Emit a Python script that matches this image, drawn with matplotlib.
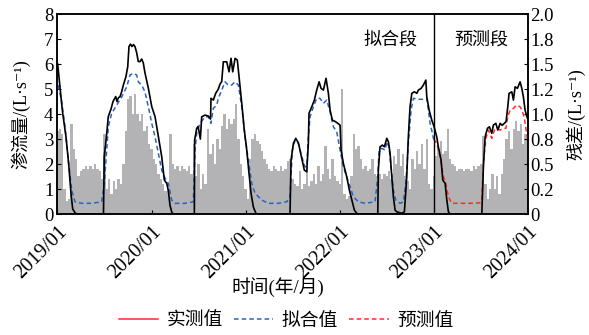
import numpy as np
import matplotlib
matplotlib.use("Agg")
import matplotlib.pyplot as plt
from matplotlib.lines import Line2D
from matplotlib.ticker import FixedLocator, FuncFormatter

plt.rcParams["font.family"] = ["Liberation Serif", "Noto Sans CJK SC", "DejaVu Sans"]

# observed seepage flow (L/s), time in decimal years
obs_t = [2019.002, 2019.021, 2019.053, 2019.090, 2019.119, 2019.144, 2019.162, 2019.191, 2019.218,
         2019.489, 2019.497, 2019.523, 2019.540, 2019.569, 2019.590, 2019.604, 2019.619, 2019.633,
         2019.647, 2019.665, 2019.683, 2019.700, 2019.728, 2019.747, 2019.760, 2019.776, 2019.792,
         2019.808, 2019.824, 2019.842, 2019.859, 2019.877, 2019.895, 2019.912, 2019.930, 2019.966,
         2020.002, 2020.037, 2020.072, 2020.108, 2020.136, 2020.161, 2020.178, 2020.196, 2020.214,
         2020.228,
         2020.455, 2020.458, 2020.480, 2020.494, 2020.505, 2020.519, 2020.533, 2020.569, 2020.604,
         2020.627, 2020.632, 2020.657, 2020.682, 2020.710, 2020.728, 2020.746, 2020.763, 2020.799,
         2020.824, 2020.845, 2020.863, 2020.888, 2020.912, 2020.930, 2020.959, 2020.986, 2021.012,
         2021.036, 2021.058, 2021.082, 2021.108, 2021.122,
         2021.472, 2021.483, 2021.508, 2021.533, 2021.561, 2021.597, 2021.624, 2021.650, 2021.667,
         2021.674, 2021.703, 2021.731, 2021.756, 2021.781, 2021.802, 2021.827, 2021.855, 2021.880,
         2021.898, 2021.922, 2021.958, 2022.004, 2022.015, 2022.039, 2022.075, 2022.103, 2022.129,
         2022.156, 2022.182, 2022.196,
         2022.405, 2022.411, 2022.429, 2022.454, 2022.475, 2022.501, 2022.518, 2022.536, 2022.554,
         2022.571, 2022.589, 2022.607, 2022.660, 2022.688, 2022.713, 2022.730, 2022.748, 2022.767,
         2022.794, 2022.820, 2022.837, 2022.866, 2022.890, 2022.916, 2022.926, 2022.951, 2022.979,
         2023.004, 2023.032, 2023.049, 2023.078, 2023.096, 2023.121, 2023.139, 2023.156, 2023.174,
         2023.511, 2023.528, 2023.546, 2023.571, 2023.592, 2023.617, 2023.634, 2023.660, 2023.681,
         2023.706, 2023.727, 2023.751, 2023.769, 2023.787, 2023.801, 2023.830, 2023.847, 2023.865,
         2023.890, 2023.918, 2023.936, 2023.953, 2023.971, 2023.990, 2024.000]
obs_v = [6.00, 5.30, 4.10, 3.10, 2.00, 0.80, 0.20, 0.03, 0.00,
         0.00, 2.30, 3.20, 3.90, 4.20, 4.50, 4.60, 4.70, 4.50,
         4.65, 4.70, 4.90, 5.16, 5.50, 5.90, 6.70, 6.80, 6.70,
         6.78, 6.70, 6.45, 6.10, 6.10, 6.20, 6.05, 5.65, 5.03,
         4.30, 3.90, 3.10, 2.30, 1.36, 1.23, 0.96, 0.35, 0.09,
         0.00,
         0.00, 2.96, 3.43, 3.50, 3.30, 3.00, 3.89, 3.96, 3.92,
         3.80, 4.63, 4.56, 4.83, 5.00, 5.20, 5.30, 6.09, 6.09,
         5.69, 6.23, 5.69, 6.23, 6.16, 5.49, 4.43, 3.36, 2.56,
         1.63, 0.83, 0.29, 0.04, 0.00,
         0.00, 2.16, 2.83, 3.03, 2.85, 2.23, 1.76, 1.69, 2.83,
         4.03, 4.29, 4.56, 4.96, 5.29, 5.03, 4.96, 5.43, 4.83,
         4.16, 3.76, 3.69, 3.56, 2.56, 2.03, 1.49, 0.96, 0.56,
         0.16, 0.03, 0.00,
         0.00, 1.76, 2.69, 2.76, 2.69, 3.03, 2.89, 2.43, 1.49,
         0.69, 0.16, 0.09, 0.03, 0.09, 1.49, 3.09, 4.29, 4.83,
         4.89, 4.83, 4.96, 5.03, 5.16, 5.36, 4.69, 4.16, 3.76,
         3.49, 3.09, 2.69, 2.16, 1.36, 1.23, 0.56, 0.09, 0.00,
         0.00, 1.89, 3.09, 3.43, 3.49, 3.23, 3.56, 3.63, 3.36,
         3.63, 3.55, 3.63, 3.70, 4.29, 4.83, 4.89, 4.56, 5.09,
         5.03, 5.29, 5.03, 4.69, 4.16, 3.89, 3.80]

# fitted flow over the calibration period (L/s)
fit_t = [2019.009, 2019.045, 2019.080, 2019.115, 2019.151, 2019.186, 2019.257, 2019.364, 2019.470,
         2019.498, 2019.523, 2019.540, 2019.576, 2019.630, 2019.683, 2019.736, 2019.771, 2019.806,
         2019.842, 2019.859, 2019.895, 2019.930, 2019.966, 2020.002, 2020.037, 2020.072, 2020.108,
         2020.136, 2020.178, 2020.214, 2020.250, 2020.356, 2020.444, 2020.462, 2020.480, 2020.515,
         2020.569, 2020.604, 2020.632, 2020.657, 2020.693, 2020.710, 2020.746, 2020.781, 2020.816,
         2020.852, 2020.888, 2020.923, 2020.959, 2020.994, 2021.029, 2021.065, 2021.100, 2021.171,
         2021.242, 2021.348, 2021.437, 2021.472, 2021.497, 2021.526, 2021.561, 2021.597, 2021.632,
         2021.650, 2021.667, 2021.685, 2021.720, 2021.756, 2021.791, 2021.827, 2021.863, 2021.898,
         2021.933, 2021.969, 2022.004, 2022.039, 2022.075, 2022.111, 2022.146, 2022.199, 2022.270,
         2022.376, 2022.405, 2022.419, 2022.447, 2022.483, 2022.501, 2022.525, 2022.546, 2022.571,
         2022.596, 2022.642, 2022.677, 2022.703, 2022.730, 2022.759, 2022.784, 2022.837, 2022.890,
         2022.926, 2022.943, 2022.961, 2022.986, 2022.998]
fit_v = [5.16, 4.49, 3.49, 2.16, 0.96, 0.49, 0.43, 0.43, 0.49,
         1.23, 2.56, 3.49, 4.03, 4.36, 4.69, 5.09, 5.56, 5.63,
         5.56, 5.29, 5.16, 4.89, 4.29, 3.63, 3.09, 2.43, 1.76,
         1.49, 1.23, 0.56, 0.43, 0.43, 0.49, 2.56, 3.23, 3.63,
         3.89, 3.89, 3.63, 4.23, 4.36, 4.63, 4.96, 5.29, 5.16,
         5.16, 5.29, 5.16, 4.29, 3.09, 2.16, 1.23, 0.83, 0.56,
         0.43, 0.43, 0.49, 0.69, 2.56, 2.96, 2.83, 2.29, 1.89,
         1.89, 3.09, 3.89, 4.29, 4.63, 4.63, 4.43, 4.56, 4.09,
         3.49, 3.29, 2.56, 1.89, 1.49, 1.09, 0.69, 0.49, 0.43,
         0.49, 1.49, 2.56, 2.63, 2.56, 2.89, 2.69, 1.89, 0.96,
         0.56, 0.43, 0.49, 1.23, 2.83, 4.16, 4.63, 4.59, 4.59,
         4.63, 4.16, 3.63, 3.23, 3.00]

# predicted flow over the validation period (L/s)
pred_t = [2022.998, 2023.007, 2023.032, 2023.068, 2023.103, 2023.128, 2023.156, 2023.192, 2023.245,
          2023.387, 2023.493, 2023.511, 2023.528, 2023.554, 2023.581, 2023.617, 2023.645, 2023.670,
          2023.706, 2023.741, 2023.767, 2023.787, 2023.812, 2023.847, 2023.883, 2023.918, 2023.936,
          2023.961, 2023.982, 2024.000]
pred_v = [3.00, 2.96, 2.83, 2.29, 1.49, 1.23, 0.69, 0.43, 0.43,
          0.43, 0.45, 0.56, 2.03, 3.03, 3.36, 3.03, 3.36, 3.43,
          3.36, 3.43, 3.43, 3.89, 4.16, 4.23, 4.36, 4.29, 4.16,
          3.89, 3.36, 3.00]

# absolute residual (L/s), sampled every 0.025 year from 2019/01
resid = [0.83, 0.85, 0.80, 0.25, 0.13, 0.15, 0.90, 0.65, 0.55, 0.38,
         0.43, 0.45, 0.48, 0.45, 0.48, 0.45, 0.50, 0.45, 0.43, 0.35,
         0.80, 0.25, 0.35, 0.20, 0.33, 0.25, 0.35, 0.30, 0.50, 0.83,
         1.15, 1.18, 1.00, 1.20, 1.00, 0.93, 1.00, 0.83, 0.88, 0.70,
         0.65, 0.55, 0.50, 0.40, 0.35, 0.30, 0.23, 0.25, 0.80, 0.50,
         0.45, 0.48, 0.43, 0.48, 0.45, 0.43, 0.48, 0.40, 0.70, 0.38,
         0.50, 0.25, 0.40, 0.30, 0.85, 0.60, 0.70, 0.50, 0.75, 0.65,
         0.88, 1.00, 0.85, 0.95, 0.90, 0.95, 1.10, 0.75, 0.50, 0.38,
         0.25, 0.15, 0.55, 0.75, 0.80, 0.73, 0.70, 0.63, 0.55, 0.50,
         0.45, 0.43, 0.48, 0.45, 0.43, 0.48, 0.43, 0.45, 0.53, 0.55,
         0.35, 0.30, 0.28, 0.43, 0.25, 0.30, 0.45, 0.28, 0.33, 0.40,
         0.30, 0.48, 0.33, 0.40, 0.68, 0.45, 0.35, 0.55, 0.38, 0.33,
         0.30, 1.25, 0.20, 0.15, 0.18, 0.38, 0.80, 0.65, 0.68, 0.55,
         0.45, 0.48, 0.43, 0.45, 0.55, 0.40, 0.38, 0.40, 0.35, 0.40,
         0.38, 0.43, 0.35, 0.58, 0.50, 0.65, 0.48, 0.60, 0.38, 0.33,
         0.25, 0.55, 0.45, 0.63, 0.50, 0.70, 0.45, 0.75, 0.30, 0.25,
         0.38, 0.58, 0.65, 0.73, 0.60, 0.63, 0.85, 0.55, 0.50, 0.48,
         0.43, 0.45, 0.45, 0.43, 0.45, 0.45, 0.43, 0.48, 0.45, 0.48,
         0.50, 0.78, 0.30, 0.15, 0.25, 0.40, 0.25, 0.38, 0.20, 0.40,
         0.55, 0.75, 0.83, 0.65, 0.85, 0.93, 0.83, 0.90, 0.70, 0.80,
         0.95]
resid_step = 0.025
resid_t = 2019.0 + resid_step * np.arange(len(resid))

year_ticks = [2019, 2020, 2021, 2022, 2023, 2024]
year_labels = ["2019/01", "2020/01", "2021/01", "2022/01", "2023/01", "2024/01"]
split_year = 2023

fig = plt.figure(figsize=(5.89, 3.35), dpi=100)
ax = fig.add_axes([0.0976, 0.361, 0.7985, 0.597])
ax2 = ax.twinx()

gray = "#b3b3b5"
ax2.fill_between(resid_t, 0, resid, step="mid", color=gray, linewidth=0)
ax2.set_ylim(0, 2.0)
ax2.yaxis.set_major_locator(FixedLocator(np.arange(0, 2.01, 0.25)))
ax2.yaxis.set_major_formatter(FuncFormatter(lambda v, p: "0" if v == 0 else f"{v:.1f}"))

# keep the flow curves above the residual area
ax.set_zorder(ax2.get_zorder() + 1)
ax.patch.set_visible(False)

blue = "#2a62c4"
red = "#ff2a2a"
dash = (0, (3, 2))
ax.plot(fit_t, fit_v, color=blue, lw=1.1, ls=dash)
ax.plot(pred_t, pred_v, color=red, lw=1.1, ls=dash)
ax.plot(obs_t, obs_v, color="black", lw=1.2)
ax.axvline(split_year, color="black", lw=1.0)

ax.set_xlim(2019, 2024)
ax.set_ylim(0, 8)
ax.set_yticks(range(0, 9))
ax.set_xticks(year_ticks)
ax.set_xticklabels(year_labels, rotation=45, ha="right", va="top", rotation_mode="anchor",
                   fontsize=14.5)

fs = 13.5
ax.tick_params(axis="y", direction="in", labelsize=fs, length=3, width=0.8, pad=3)
ax.tick_params(axis="x", direction="in", length=3, width=0.8, pad=6)
ax2.tick_params(axis="y", direction="in", labelsize=fs, length=3, width=0.8, pad=2)
for a in (ax, ax2):
    for s in a.spines.values():
        s.set_linewidth(1.1)

ax.set_ylabel("渗流量/(L·s⁻¹)", fontsize=13)
ax.yaxis.set_label_coords(-0.057, 0.5)
ax2.set_ylabel("残差/(L·s⁻¹)", fontsize=13)
ax2.yaxis.set_label_coords(1.082, 0.5)

ax.text(2022.536, 6.96, "拟合段", ha="center", va="center", fontsize=13)
ax.text(2023.504, 6.96, "预测段", ha="center", va="center", fontsize=13)

fig.text(278 / 589, 1 - 287 / 335, "时间(年/月)", ha="center", va="center", fontsize=fs)

handles = [
    Line2D([], [], color=red, lw=1.1, ls="-"),
    Line2D([], [], color=blue, lw=1.1, ls=dash),
    Line2D([], [], color=red, lw=1.1, ls=dash),
]
fig.legend(handles, ["实测值", "拟合值", "预测值"], loc="center",
           bbox_to_anchor=(286 / 589, 1 - 321 / 335), ncol=3, frameon=False,
           fontsize=fs, handlelength=2.1, handletextpad=0.45, columnspacing=0.6)

fig.savefig("out.png", dpi=100)
